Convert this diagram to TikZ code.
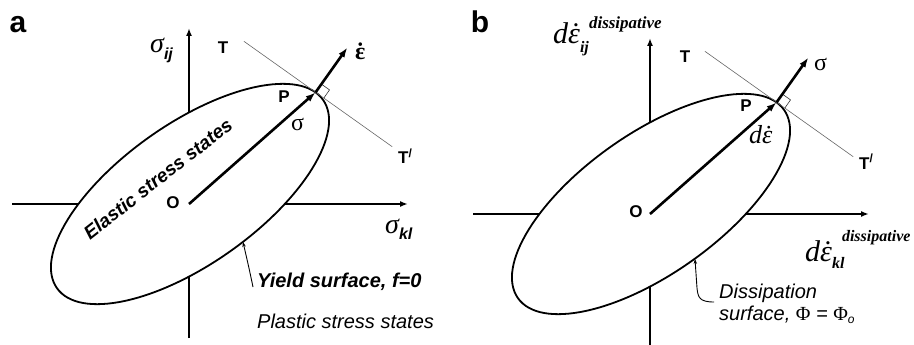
\documentclass[tikz,border=0pt]{standalone}
\usepackage{fontspec}
\setmainfont{Liberation Sans}
\newfontfamily\grk{Liberation Serif}
\usetikzlibrary{arrows.meta}
\newcommand{\fs}[1]{\fontsize{#1}{#1}\selectfont}
\newcommand{\edt}{\accent"02D9 ε}
\begin{document}
\begin{tikzpicture}[x=1pt,y=-1pt,
  axis/.style={line width=1.6pt,-{Latex[length=8pt,width=6pt]}},
  outline/.style={line width=1.8pt,fill=white},
  vec/.style={line width=2.6pt,-{Latex[length=10pt,width=7pt]}},
  tang/.style={line width=0.6pt,black!60},
  leader/.style={line width=0.9pt,-{Stealth[length=5pt,width=3.5pt]}},
  lbl/.style={font=\fs{17}\bfseries,inner sep=0pt},
  panellbl/.style={font=\fs{30}\bfseries,inner sep=0pt,anchor=base},
  txt/.style={inner sep=0pt,anchor=base west}]
\useasboundingbox (0,0) rectangle (914,345);
\foreach \s/\dx/\dy in {a/0/0,b/461/10}{
  \begin{scope}[shift={(\dx,\dy)}]
    \coordinate (O\s) at (189,204);
    \coordinate (xl\s) at (12,204);
    \coordinate (xr\s) at (408,204);
    \coordinate (yb\s) at (189,338);
    \coordinate (yt\s) at (189,28);
    \coordinate (P\s) at (315.6,92.3);
    \coordinate (N\s) at (347.4,47.5);
    \coordinate (T\s) at (243.9,41.3);
    \coordinate (U\s) at (392.2,146.7);
    \coordinate (ra\s) at (321.4,84.1);
    \coordinate (rb\s) at (329.5,89.9);
    \coordinate (rc\s) at (323.8,98.1);
    \draw[axis] (xl\s) -- (xr\s);
    \draw[axis] (yb\s) -- (yt\s);
    \draw[outline,rotate around={35.3:(190,194)}] (190,194) ellipse [x radius=163,y radius=70];
    \draw[tang] (T\s) -- (U\s);
    \draw[tang,black!80] (ra\s) -- (rb\s) -- (rc\s);
    \draw[vec] (O\s) -- (P\s);
    \draw[vec] (P\s) -- (N\s);
  \end{scope}
}
% panel a labels
\node[panellbl] (la) at (18,33) {a};
\node[txt] (sij) at (150,53) {{\grk\itshape\fs{28}σ}\raisebox{-6pt}{\fs{16}\bfseries\itshape ij}};
\node[lbl] (Tla) at (223,48) {T};
\node[txt] (eda) at (355,60) {\grk\bfseries\fs{24}\edt};
\node[lbl] (Pla) at (284,97) {P};
\node[txt] (sga) at (291,131) {\grk\fs{24}σ};
\node[txt,font=\fs{17}\bfseries] (Ula) at (398,164) {T\textsuperscript{/}};
\node[lbl] (Ola) at (173,203) {O};
\node[txt] (skl) at (385,233) {{\grk\itshape\fs{28}σ}\raisebox{-6pt}{\fs{16}\bfseries\itshape kl}};
\node[inner sep=0pt,anchor=base,rotate=38,font=\fs{19}\bfseries\itshape] (ela) at (162,184) {Elastic stress states};
\node[txt,font=\fs{20}\bfseries\itshape] (yld) at (257,287) {Yield surface, f=0};
\node[txt,font=\fs{20}\itshape] (pls) at (257,328) {Plastic stress states};
\coordinate (ya) at (253,287);
\coordinate (ea) at (243,242);
\draw[leader] (ya) .. controls (249,268) .. (ea);
% panel b labels
\node[panellbl] (lb) at (480,33) {b};
\node[txt] (dij) at (553,44) {{\grk\itshape\fs{30}d\edt}\rlap{\raisebox{-9pt}{\grk\bfseries\itshape\fs{16}ij}}\hspace{9pt}\raisebox{15pt}{\grk\bfseries\itshape\fs{17}dissipative}};
\node[lbl] (Tlb) at (685,57) {T};
\node[txt] (sgb) at (814,71) {\grk\fs{24}σ};
\node[lbl] (Plb) at (746,106) {P};
\node[txt] (deb) at (749,143) {\grk\itshape\fs{26}d\edt};
\node[txt,font=\fs{17}\bfseries] (Ulb) at (859,169) {T\textsuperscript{/}};
\node[lbl] (Olb) at (636,212) {O};
\node[txt] (dkl) at (805,261) {{\grk\itshape\fs{30}d\edt}\rlap{\raisebox{-7pt}{\grk\bfseries\itshape\fs{16}kl}}\hspace{10pt}\raisebox{20pt}{\grk\bfseries\itshape\fs{16}dissipative}};
\node[txt,font=\fs{20}\itshape] (dis1) at (719,298) {Dissipation};
\node[txt,font=\fs{20}\itshape] (dis2) at (719,320) {surface, {\grk\upshape Φ} = {\grk\upshape Φ}\raisebox{-3pt}{\fs{12}o}};
\coordinate (lbs) at (714,302);
\coordinate (ebt) at (695,259);
\draw[leader] (lbs) .. controls (699,302) and (698,297) .. (697,288) -- (ebt);
\end{tikzpicture}
\end{document}
